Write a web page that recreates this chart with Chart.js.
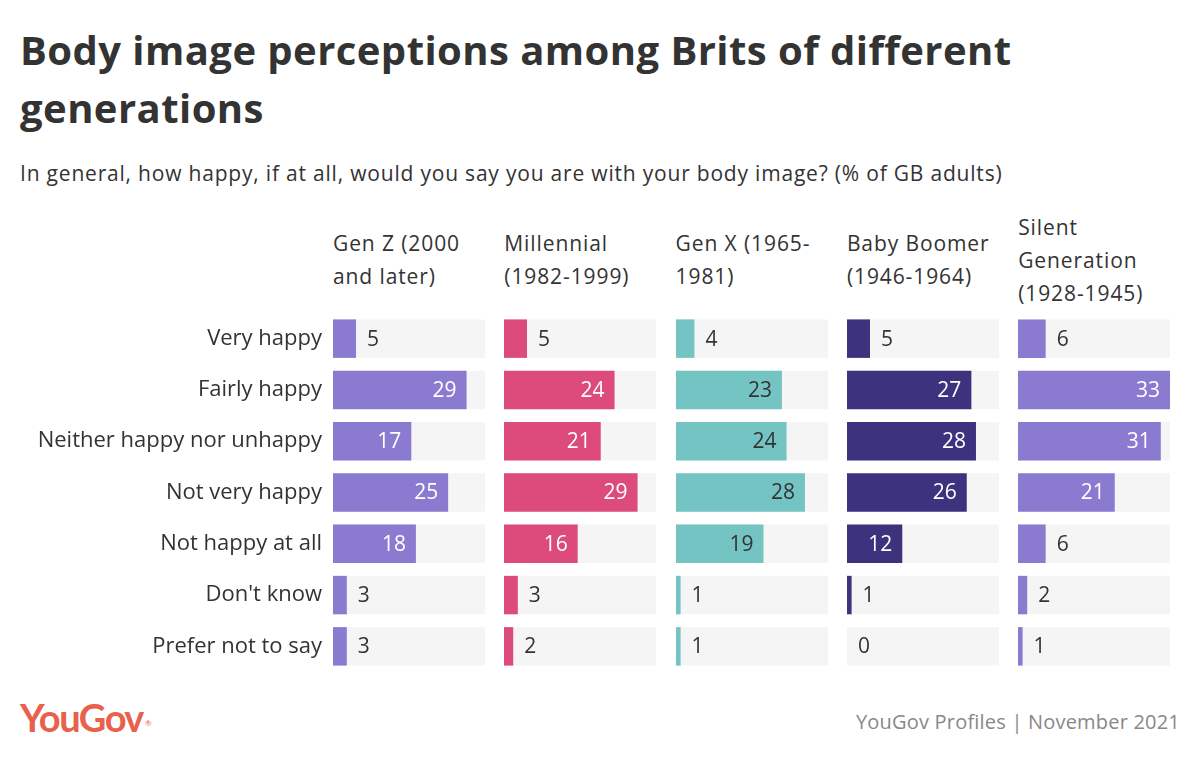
<!DOCTYPE html>
<html><head><meta charset="utf-8">
<script src="https://cdn.jsdelivr.net/npm/chart.js@4/dist/chart.umd.min.js"></script>
<style>
html,body{margin:0;padding:0}
body{width:1200px;height:760px;background:#fff;font-family:'Open Sans',Lato,sans-serif;color:#333;position:relative;overflow:hidden}
#title{position:absolute;left:20px;top:21px;font-size:40px;font-weight:700;line-height:58px;color:#333;white-space:nowrap;letter-spacing:0.45px}
#subtitle{position:absolute;left:20px;top:159px;font-size:21px;font-weight:400;line-height:28px;color:#333;white-space:nowrap;letter-spacing:0.8px}
.hdr{position:absolute;top:210px;height:100px;width:175px;display:flex;flex-direction:column;justify-content:center;font-size:21px;line-height:33px;color:#333;white-space:nowrap;letter-spacing:0.9px}
.pan{position:absolute}
#logo{position:absolute;left:20px;top:694px;font-family:Lato,sans-serif;font-size:38px;font-weight:700;color:#e8614d;letter-spacing:-1.5px;line-height:46px}
#logo sup{font-size:8px;font-weight:400;vertical-align:top;position:relative;top:6px;left:2px}
#source{position:absolute;right:20px;top:708px;font-size:20px;font-weight:400;color:#888;line-height:28px;white-space:nowrap;letter-spacing:0.2px}
</style></head>
<body>
<div id="title">Body image perceptions among Brits of different<br>generations</div>
<div id="subtitle">In general, how happy, if at all, would you say you are with your body image? (% of GB adults)</div>
<div id="logo">YouGov<sup>®</sup></div>
<div id="source">YouGov Profiles | November 2021</div>
<script>
const categories = ["Very happy","Fairly happy","Neither happy nor unhappy","Not very happy","Not happy at all","Don't know","Prefer not to say"];
const generationHeaders = [
  ["Gen Z (2000","and later)"],
  ["Millennial","(1982-1999)"],
  ["Gen X (1965-","1981)"],
  ["Baby Boomer","(1946-1964)"],
  ["Silent","Generation","(1928-1945)"]
];
const genZ = [5,29,17,25,18,3,3];
const millennial = [5,24,21,29,16,3,2];
const genX = [4,23,24,28,19,1,1];
const babyBoomer = [5,27,28,26,12,1,0];
const silentGeneration = [6,33,31,21,6,2,1];
const axisMax = 33;

const seriesList = [genZ, millennial, genX, babyBoomer, silentGeneration];
const colors = ['#8a7bd1','#dc4b7c','#74c4c4','#3c327d','#8a7bd1'];
const insideText = ['#ffffff','#ffffff','#333333','#ffffff','#ffffff'];
const FONT = "'Open Sans'";

const valueLabels = {
  id:'valueLabels',
  afterDatasetsDraw(chart){
    const ctx = chart.ctx;
    const meta = chart.getDatasetMeta(0);
    const ds = chart.data.datasets[0];
    ctx.save();
    ctx.font = '21px ' + FONT;
    ctx.textBaseline = 'middle';
    meta.data.forEach((bar,j)=>{
      const v = ds.data[j];
      if (v >= 10){
        ctx.textAlign='right'; ctx.fillStyle = ds.insideColor;
        ctx.fillText(String(v), bar.x - 10, bar.y + 1);
      } else {
        ctx.textAlign='left'; ctx.fillStyle = '#333';
        ctx.fillText(String(v), bar.x + 11, bar.y + 1);
      }
    });
    ctx.restore();
  }
};

const TOP = 312.5, ROWH = 51.3, H = Math.round(ROWH*categories.length);
const X0 = 333, STEP = 171.3, PW = 152, YAXW = 333;

seriesList.forEach((vals,i)=>{
  const left = X0 + i*STEP;
  const hdr = document.createElement('div');
  hdr.className='hdr';
  hdr.style.left = left + 'px';
  generationHeaders[i].forEach(t=>{const d=document.createElement('div');d.textContent=t;hdr.appendChild(d);});
  document.body.appendChild(hdr);

  const wrap = document.createElement('div');
  wrap.className='pan';
  const cLeft = i===0 ? 0 : Math.round(left);
  const cW = i===0 ? Math.round(left)+PW : PW;
  wrap.style.left = cLeft+'px'; wrap.style.top = TOP+'px';
  wrap.style.width = cW+'px'; wrap.style.height = H+'px';
  const cv = document.createElement('canvas');
  cv.width = cW; cv.height = H;
  wrap.appendChild(cv);
  document.body.appendChild(wrap);

  const yScale = {
    display: i===0,
    grid:{display:false, drawTicks:false},
    border:{display:false},
    ticks:{font:{size:22, family:FONT}, color:'#333', padding:11}
  };
  if (i===0) yScale.afterFit = s=>{ s.width = YAXW; s.paddingTop = 0; s.paddingBottom = 0; };

  new Chart(cv, {
    type:'bar',
    data:{
      labels: categories,
      datasets:[
        {data: vals, backgroundColor: colors[i], insideColor: insideText[i], order:0, barPercentage:0.75, categoryPercentage:1, grouped:false},
        {data: categories.map(()=>axisMax), backgroundColor:'#f5f5f5', order:1, barPercentage:0.75, categoryPercentage:1, grouped:false}
      ]
    },
    options:{
      indexAxis:'y',
      responsive:false,
      devicePixelRatio:1,
      animation:false,
      layout:{padding:0},
      scales:{
        x:{display:false, min:0, max:axisMax},
        y: yScale
      },
      plugins:{legend:{display:false}, tooltip:{enabled:false}}
    },
    plugins:[valueLabels]
  });
});
</script>
</body></html>
